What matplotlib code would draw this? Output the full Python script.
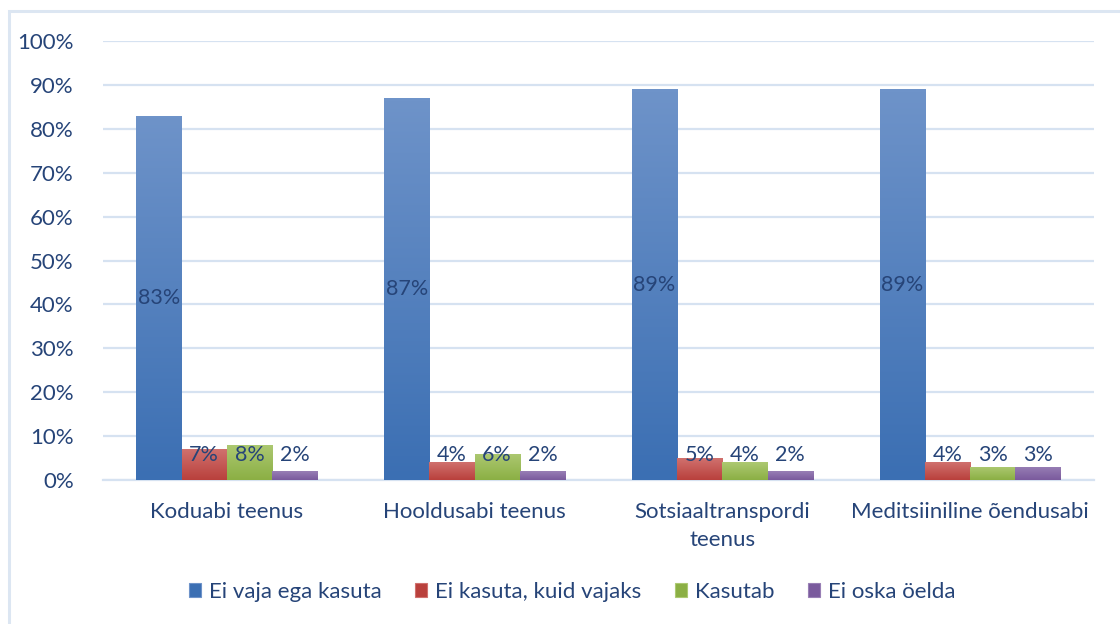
import matplotlib
matplotlib.use("Agg")
import matplotlib.pyplot as plt
import numpy as np
from matplotlib.colors import LinearSegmentedColormap
from matplotlib.patches import Rectangle

categories = ["Koduabi teenus", "Hooldusabi teenus", "Sotsiaaltranspordi\nteenus", "Meditsiiniline õendusabi"]
series_names = ["Ei vaja ega kasuta", "Ei kasuta, kuid vajaks", "Kasutab", "Ei oska öelda"]
values = {
    "Ei vaja ega kasuta": [83, 87, 89, 89],
    "Ei kasuta, kuid vajaks": [7, 4, 5, 4],
    "Kasutab": [8, 6, 4, 3],
    "Ei oska öelda": [2, 2, 2, 3],
}
yticks = [0, 10, 20, 30, 40, 50, 60, 70, 80, 90, 100]

# (top colour, bottom colour) per series
grad = {
    "Ei vaja ega kasuta": ("#6E93C9", "#3B6FB3"),
    "Ei kasuta, kuid vajaks": ("#D0716E", "#B9403C"),
    "Kasutab": ("#ADC972", "#8BAF44"),
    "Ei oska öelda": ("#987FB5", "#7A5A9D"),
}
txt = "#264478"
grid_c = "#D6E2F1"

plt.rcParams['font.family'] = ['Lato', 'DejaVu Sans']
fig = plt.figure(figsize=(11.2, 6.24), dpi=100)
ax = fig.add_axes([103/1120, 1 - 480/624, (1094-103)/1120, (480-41)/624])

fig.patches.append(Rectangle((9/1120, -0.1), 1.2, 1 - 11/624 + 0.1, transform=fig.transFigure,
                             fill=False, edgecolor="#DCE6F2", linewidth=2.2))

x = np.arange(len(categories))
w = 0.1825
offsets = (np.arange(4) - 1.5) * w
for i, s in enumerate(series_names):
    top, bot = grad[s]
    cmap = LinearSegmentedColormap.from_list(s, [bot, top])
    bars = ax.bar(x + offsets[i], values[s], width=w, color=bot, label=s, zorder=3, linewidth=0)
    for b, v in zip(bars, values[s]):
        x0 = b.get_x()
        im = ax.imshow(np.linspace(0, 1, 100).reshape(-1, 1), cmap=cmap, vmin=0, vmax=1,
                       aspect='auto', origin='lower', extent=[x0, x0 + b.get_width(), 0, v], zorder=3.5,
                       interpolation='bicubic')
        im.set_clip_path(b)
        if i == 0:
            ax.text(x0 + b.get_width()/2, v/2, f"{v}%", ha='center', va='center', fontsize=15.5, color=txt, zorder=5)
        else:
            ax.text(x0 + b.get_width()/2, 5.8, f"{v}%", ha='center', va='center', fontsize=15.5, color=txt, zorder=5)

ax.set_xlim(-0.5, len(categories) - 0.5)
ax.set_ylim(0, 100)
ax.set_yticks(yticks)
ax.set_yticklabels([f"{t}%" for t in yticks])
ax.set_xticks(x)
ax.set_xticklabels(categories, linespacing=1.5)
ax.tick_params(axis='both', length=0, labelsize=16, colors=txt)
ax.tick_params(axis='y', pad=21)
ax.tick_params(axis='x', pad=16)
ax.grid(axis='y', color=grid_c, linewidth=1.6, zorder=0)
ax.set_axisbelow(True)
for sp in ['top', 'right', 'left']:
    ax.spines[sp].set_visible(False)
ax.spines['bottom'].set_color(grid_c)
ax.spines['bottom'].set_linewidth(1.6)

handles = [Rectangle((0, 0), 1, 1, facecolor=grad[s][1], edgecolor=grad[s][0], linewidth=0.8) for s in series_names]
leg = fig.legend(handles, series_names, loc='center', bbox_to_anchor=(572/1120, 1 - 592/624), ncol=4,
                 frameon=False, fontsize=16, handlelength=0.55, handleheight=0.55, handletextpad=0.35,
                 columnspacing=1.5, labelcolor=txt)

fig.savefig("out.png", dpi=100, facecolor="white")
